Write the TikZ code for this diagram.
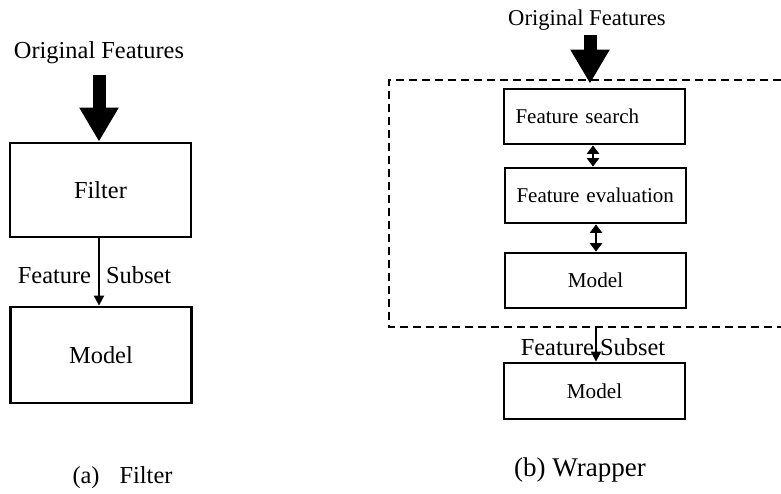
\documentclass[tikz,border=0pt]{standalone}
\usepackage{fontspec}
\setmainfont{Liberation Serif}
\usetikzlibrary{arrows.meta,positioning}

\begin{document}
\begin{tikzpicture}[x=0.5pt, y=-0.5pt,
    every node/.style={font=\fontsize{12.2}{14}\selectfont, inner sep=0pt},
    box/.style={draw, line width=1.4pt, minimum width=90.5pt, minimum height=27.5pt},
    leftbox/.style={box, text width=79pt, inner xsep=5.75pt, align=left},
    bigarrow/.style={line width=6.5pt, -{Triangle[length=17pt, width=18.5pt]}},
    thinarrow/.style={line width=1pt, -{Triangle[length=5pt, width=5pt]}},
    twoarrow/.style={line width=1.3pt, {Triangle[length=4.2pt, width=6pt]}-{Triangle[length=4.2pt, width=6pt]}}]
  \useasboundingbox (0,0) rectangle (781,493);

  % (a) filter approach
  \node (origa) at (99,53) {Original Features};
  \node[box, minimum width=90.5pt, minimum height=47pt] (filter) at (100.5,190) {Filter};
  \node[box, minimum width=90.5pt, minimum height=48pt] (modela) at (101,355) {Model};
  \draw[bigarrow, shorten <=5pt] (origa.south) -- (filter.north -| origa.south);
  \draw[thinarrow] (filter.south -| 99,0) -- (modela.north -| 99,0);
  \node (subseta) at (94.5,275) {Feature\hspace{7.5pt}Subset};
  \node (capa) at (122.5,478) {(a)\hspace{10pt}Filter};

  % (b) wrapper approach
  \node[font=\fontsize{11.3}{13}\selectfont] (origb) at (587,20) {Original Features};
  \draw[line width=1pt, dash pattern=on 4pt off 2.5pt] (781,80) -- (389,80) -- (389,327) -- (781,327);
  \node[leftbox, font=\fontsize{10.5}{13}\selectfont] (search) at (594.5,116.5) {Feature search};
  \node[leftbox, font=\fontsize{10.5}{13}\selectfont] (evaluate) at (595.5,195.5) {Feature evaluation};
  \node[box, font=\fontsize{10.6}{13}\selectfont] (modelin) at (595.5,280.5) {Model};
  \coordinate (wrapout) at (596,327);
  \node[box, minimum height=28pt, font=\fontsize{10.6}{13}\selectfont] (modelb) at (594.5,391) {Model};
  \draw[bigarrow, shorten <=2pt, shorten >=2pt] (origb.south -| 590,0) -- (search.north -| 590,0);
  \draw[twoarrow] (search.south -| 593,0) -- (evaluate.north -| 593,0);
  \draw[twoarrow] (evaluate.south -| 596,0) -- (modelin.north -| 596,0);
  \draw[thinarrow] (wrapout) -- (modelb.north -| wrapout);
  \node (subsetb) at (593,347) {Feature Subset};
  \node[font=\fontsize{13.5}{16}\selectfont] (capb) at (580,470) {(b) Wrapper};
\end{tikzpicture}
\end{document}
